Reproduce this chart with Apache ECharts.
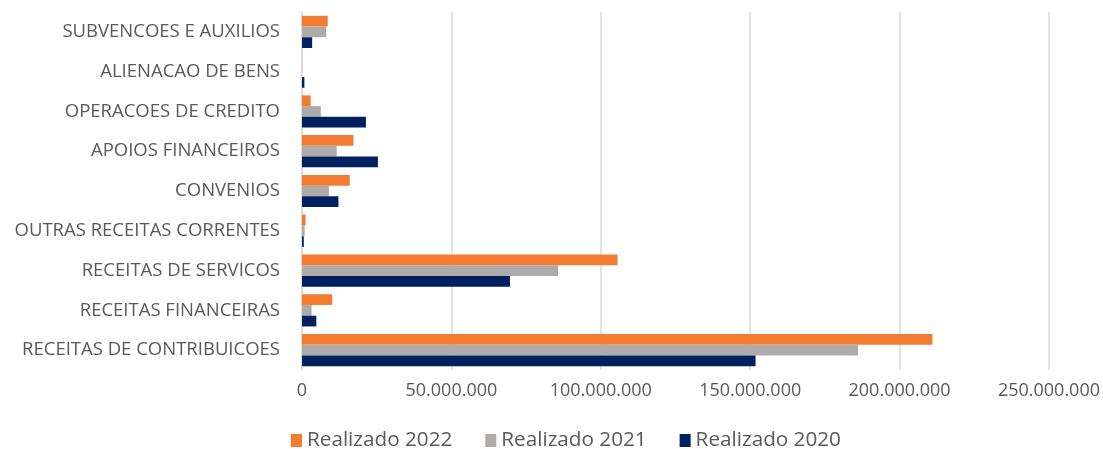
<!DOCTYPE html>
<html>
<head>
<meta charset="utf-8">
<script src="https://cdn.jsdelivr.net/npm/echarts@6/dist/echarts.min.js"></script>
<style>
  html, body { margin: 0; padding: 0; background: #ffffff; }
  #chart { width: 1103px; height: 449px; }
</style>
</head>
<body>
<div id="chart"></div>
<script>
// categories bottom to top, as on the chart
const categories = [
    'RECEITAS DE CONTRIBUICOES',
    'RECEITAS FINANCEIRAS',
    'RECEITAS DE SERVICOS',
    'OUTRAS RECEITAS CORRENTES',
    'CONVENIOS',
    'APOIOS FINANCEIROS',
    'OPERACOES DE CREDITO',
    'ALIENACAO DE BENS',
    'SUBVENCOES E AUXILIOS'
];
const realizado2022 = [211000000, 10100000, 105600000, 1200000, 16000000, 17200000, 2900000, 0, 8600000];
const realizado2021 = [186100000, 3200000, 85700000, 900000, 9000000, 11600000, 6300000, 0, 8100000];
const realizado2020 = [151800000, 4800000, 69600000, 600000, 12200000, 25400000, 21400000, 800000, 3400000];
const xTicks = [0, 50000000, 100000000, 150000000, 200000000, 250000000];

const textColor = '#595959';
const fontFamily = '"Open Sans", sans-serif';

const fmt = v => String(v).replace(/\B(?=(\d{3})+(?!\d))/g, '.');

const chart = echarts.init(document.getElementById('chart'));

chart.setOption({
    backgroundColor: '#ffffff',
    animation: false,
    textStyle: { fontFamily: fontFamily },
    grid: { left: 302, right: 51, top: 12, bottom: 79 },
    legend: {
        data: ['Realizado 2022', 'Realizado 2021', 'Realizado 2020'],
        left: 286,
        top: 425,
        itemWidth: 11,
        itemHeight: 13,
        itemGap: 33,
        icon: 'rect',
        textStyle: { color: textColor, fontSize: 20.7, fontFamily: fontFamily }
    },
    xAxis: {
        type: 'value',
        min: xTicks[0],
        max: xTicks[xTicks.length - 1],
        interval: 50000000,
        axisLine: { show: false },
        axisTick: { show: false },
        splitLine: { lineStyle: { color: '#d9d9d9', width: 1.5 } },
        axisLabel: {
            color: textColor,
            fontSize: 18,
            margin: 12,
            formatter: fmt
        }
    },
    yAxis: {
        type: 'category',
        data: categories,
        axisLine: { show: true, lineStyle: { color: '#d9d9d9', width: 1.5 } },
        axisTick: { show: false },
        axisLabel: { color: textColor, fontSize: 18.5, margin: 22 }
    },
    series: [
        {
            name: 'Realizado 2022',
            type: 'bar',
            data: realizado2022,
            barGap: '0%',
            barCategoryGap: '19%',
            itemStyle: { color: '#F37B2F' }
        },
        {
            name: 'Realizado 2021',
            type: 'bar',
            data: realizado2021,
            barGap: '0%',
            barCategoryGap: '19%',
            itemStyle: { color: '#AEABAA' }
        },
        {
            name: 'Realizado 2020',
            type: 'bar',
            data: realizado2020,
            barGap: '0%',
            barCategoryGap: '19%',
            itemStyle: { color: '#002060' }
        }
    ]
});
</script>
</body>
</html>
